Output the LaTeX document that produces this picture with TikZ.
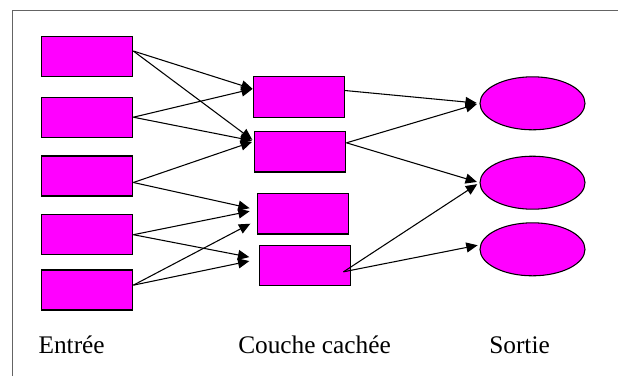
\documentclass[tikz,border=0pt]{standalone}
\usepackage{fontspec}
\setmainfont{Liberation Serif}
\usetikzlibrary{arrows.meta,shapes.geometric}
\definecolor{rose}{RGB}{255,0,255}

\begin{document}
\begin{tikzpicture}[x=0.75pt,y=0.75pt,yscale=-1,xscale=1,
        entree/.style={draw=black,fill=rose,line width=1pt,minimum width=68.25pt,minimum height=30pt,inner sep=0pt},
        cachee/.style={entree,minimum height=30.4pt},
        sortie/.style={ellipse,draw=black,fill=rose,line width=0.8pt,minimum width=78.75pt,minimum height=39.75pt,inner sep=0pt},
        fleche/.style={draw=black,line width=0.8pt,-{Triangle[length=8.5pt,width=7.5pt]}},
        legende/.style={anchor=base west,inner sep=0pt,font=\fontsize{19}{23}\selectfont}]
        \useasboundingbox (0,0) rectangle (618,376);
        
        %Shape: Frame
        \draw [color={rgb, 255:red, 100; green, 100; blue, 100 }][line width=0.75pt] (12.5,376) -- (12.5,10.5) -- (618,10.5) ;
        
        %Shape: Rectangle (entree)
        \node [entree] (e1) at (87.2,56.7) {};
        \node [entree] (e2) at (87.2,117.2) {};
        \node [entree] (e3) at (87.2,176) {};
        \node [entree] (e4) at (87.2,234.7) {};
        \node [entree] (e5) at (87.2,290) {};
        
        %Shape: Rectangle (couche cachee)
        \node [cachee] (c1) at (298.8,97) {};
        \node [cachee] (c2) at (300.3,151.8) {};
        \node [cachee] (c3) at (303,213.8) {};
        \node [cachee] (c4) at (305.3,265.5) {};
        \coordinate (c4out) at (343.5,271.8);
        
        %Shape: Ellipse (sortie)
        \node [sortie] (s1) at (532.5,103.3) {};
        \node [sortie] (s2) at (532.5,182.7) {};
        \node [sortie] (s3) at (532.5,249.3) {};
        
        %Straight Lines [entree -> cachee]
        \draw [fleche] (e1.7.5) -- (c1.170.4) ;
        \draw [fleche,shorten >=1.7pt] (e1.7.5) -- (c2.167.5) ;
        \draw [fleche] (e2.east) -- (c1.170.4) ;
        \draw [fleche,shorten >=1.7pt] (e2.east) -- (c2.167.5) ;
        \draw [fleche,shorten >=1.7pt] (e3.-8.4) -- (c2.167.5) ;
        \draw [fleche,shorten >=5.5pt] (e3.-8.4) -- (c3.175.2) ;
        \draw [fleche,shorten >=5.5pt] (e4.east) -- (c3.175.2) ;
        \draw [fleche,shorten >=7.5pt] (e4.east) -- (c4.172.2) ;
        \draw [fleche,shorten >=5.5pt] (e5.6.3) -- (c3.188.6) ;
        \draw [fleche,shorten >=7.5pt] (e5.6.3) -- (c4.172.2) ;
        
        %Straight Lines [cachee -> sortie]
        \draw [fleche,shorten >=2pt] (c1.8.7) -- (s1.west) ;
        \draw [fleche,shorten >=2pt] (c2.11.3) -- (s1.west) ;
        \draw [fleche,shorten >=2pt] (c2.11.3) -- (s2.west) ;
        \draw [fleche,shorten >=2pt] (c4out) -- (s2.west) ;
        \draw [fleche,shorten >=2pt] (c4out) -- (s3.175) ;
        
        % Text Node
        \node [legende] (l1) at (38.3,353) {Entrée};
        \node [legende] (l2) at (238,353) {Couche cachée};
        \node [legende] (l3) at (489,353) {Sortie};
        
\end{tikzpicture}
\end{document}
